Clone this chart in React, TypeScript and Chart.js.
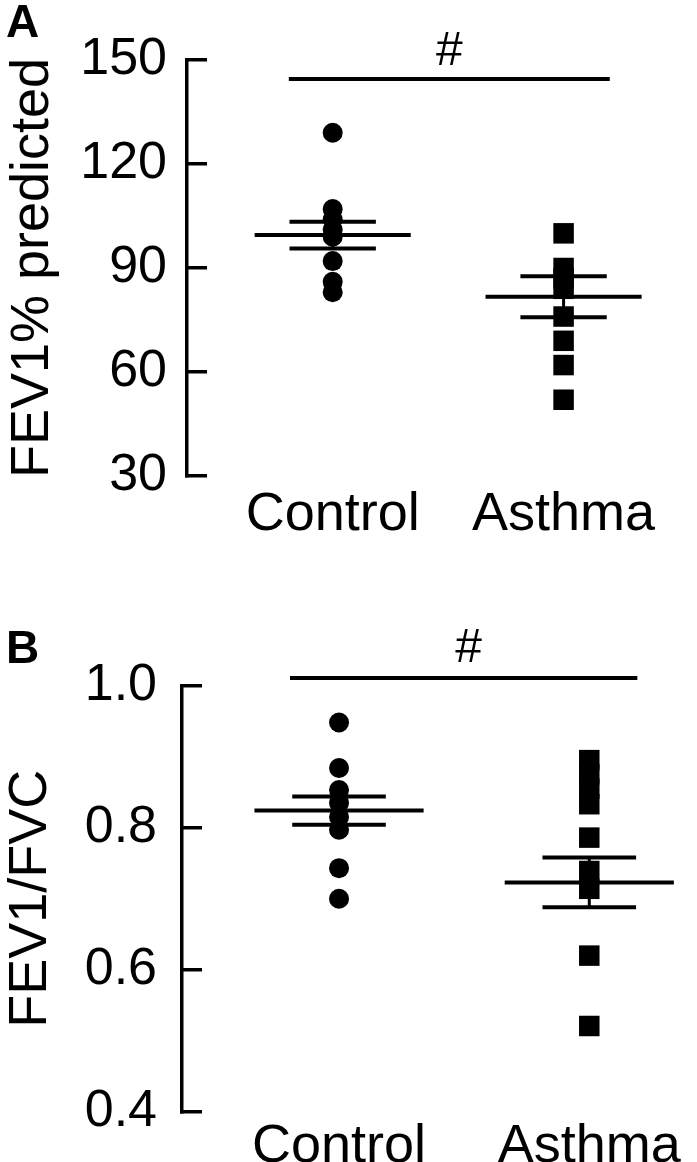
import React, { useEffect, useRef } from 'react';
import { Chart, registerables } from 'chart.js';

Chart.register(...registerables);

// ---------- data ----------
const categories = ['Control', 'Asthma'];

// Panel A: FEV1 % predicted
const fev1Control = [129, 107, 104, 101, 99, 92, 86, 83];
const fev1Asthma = [100, 90, 87, 84, 76, 69, 62, 52];
const fev1Mean = [99.5, 81.7];
const fev1Sem = [3.85, 5.9];
const fev1Ticks = [30, 60, 90, 120, 150];

// Panel B: FEV1/FVC
const ratioControl = [0.948, 0.884, 0.853, 0.835, 0.815, 0.797, 0.743, 0.7];
const ratioAsthma = [0.895, 0.875, 0.855, 0.833, 0.786, 0.739, 0.714, 0.62, 0.521];
const ratioMean = [0.824, 0.723];
const ratioSem = [0.02, 0.035];
const ratioTicks = [0.4, 0.6, 0.8, 1.0];

// ---------- styling ----------
const FONT = '"Liberation Sans", Arial, Helvetica, sans-serif';
const MEAN_HALF = 0.338;
const SEM_HALF = 0.187;

type PanelDef = {
  letter: string;
  title: string;
  control: number[];
  asthma: number[];
  mean: number[];
  sem: number[];
  ticks: number[];
  fmt: (v: number) => string;
  height: number;
  padTop: number;
  axisX: number;
  xAxisH: number;
  xMin: number;
  xMax: number;
  padRight: number;
  tickPad: number;
  xTickPad: number;
  tickFont: number;
  titleLH: number;
  sigFrom: number;
  sigTo: number;
  sigY: number;
  hashX: number;
  hashGap: number;
  letterY: number;
};

const panelA: PanelDef = {
  letter: 'A',
  title: 'FEV1% predicted',
  control: fev1Control,
  asthma: fev1Asthma,
  mean: fev1Mean,
  sem: fev1Sem,
  ticks: fev1Ticks,
  fmt: (v) => String(Math.round(v)),
  height: 580,
  padTop: 60,
  axisX: 187,
  xAxisH: 104,
  xMin: 0.369,
  xMax: 2.515,
  padRight: 10,
  tickPad: 40,
  xTickPad: -1,
  tickFont: 52,
  titleLH: 1.2,
  sigFrom: 0.81,
  sigTo: 2.2,
  sigY: 144.5,
  hashX: 1.505,
  hashGap: 14,
  letterY: 37,
};

const panelB: PanelDef = {
  letter: 'B',
  title: 'FEV1/FVC',
  control: ratioControl,
  asthma: ratioAsthma,
  mean: ratioMean,
  sem: ratioSem,
  ticks: ratioTicks,
  fmt: (v) => v.toFixed(1),
  height: 582,
  padTop: 105.5,
  axisX: 182,
  xAxisH: 50,
  xMin: 0.3725,
  xMax: 2.3725,
  padRight: 5,
  tickPad: 45,
  xTickPad: -5,
  tickFont: 52,
  titleLH: 1.1,
  sigFrom: 0.804,
  sigTo: 2.192,
  sigY: 1.0105,
  hashX: 1.518,
  hashGap: 16,
  letterY: 83,
};

const annotPlugin = {
  id: 'annot',
  afterDraw(chart: any) {
    const o = chart.options.plugins.annot;
    if (!o) return;
    const { ctx } = chart;
    const xs = chart.scales.x;
    const ys = chart.scales.y;
    ctx.save();
    ctx.fillStyle = '#000';
    ctx.font = `48px ${FONT}`;
    ctx.textAlign = 'center';
    ctx.textBaseline = 'alphabetic';
    ctx.fillText('#', xs.getPixelForValue(o.hashX), ys.getPixelForValue(o.sigY) - o.hashGap);
    ctx.font = `bold 46px ${FONT}`;
    ctx.textAlign = 'left';
    ctx.fillText(o.letter, 6, o.letterY);
    ctx.restore();
  },
};

function buildConfig(p: PanelDef): any {
  const lineDs = (data: { x: number; y: number }[], w: number, clip = true) => {
    const ds: any = {
      data,
      showLine: true,
      borderColor: '#000',
      backgroundColor: '#000',
      borderWidth: w,
      pointRadius: 0,
      pointHoverRadius: 0,
    };
    if (!clip) ds.clip = false;
    return ds;
  };
  const datasets: any[] = [];
  [0, 1].forEach((i) => {
    const xc = i + 1;
    const m = p.mean[i];
    const s = p.sem[i];
    datasets.push(lineDs([{ x: xc, y: m - s }, { x: xc, y: m + s }], 3));
    datasets.push(lineDs([{ x: xc - MEAN_HALF, y: m }, { x: xc + MEAN_HALF, y: m }], 4));
    datasets.push(lineDs([{ x: xc - SEM_HALF, y: m + s }, { x: xc + SEM_HALF, y: m + s }], 4));
    datasets.push(lineDs([{ x: xc - SEM_HALF, y: m - s }, { x: xc + SEM_HALF, y: m - s }], 4));
  });
  datasets.push({
    data: p.control.map((v) => ({ x: 1, y: v })),
    pointStyle: 'circle',
    pointRadius: 10,
    pointHoverRadius: 10,
    pointBackgroundColor: '#000',
    pointBorderWidth: 0,
    showLine: false,
    clip: false,
  });
  datasets.push({
    data: p.asthma.map((v) => ({ x: 2, y: v })),
    pointStyle: 'rect',
    pointRadius: 14.5,
    pointHoverRadius: 14.5,
    pointBackgroundColor: '#000',
    pointBorderWidth: 0,
    showLine: false,
    clip: false,
  });
  datasets.push(lineDs([{ x: p.sigFrom, y: p.sigY }, { x: p.sigTo, y: p.sigY }], 4, false));

  return {
    type: 'scatter',
    data: { datasets },
    plugins: [annotPlugin],
    options: {
      responsive: false,
      animation: false,
      events: [],
      layout: { padding: { top: p.padTop, left: 0, right: p.padRight, bottom: 0 } },
      plugins: {
        legend: { display: false },
        tooltip: { enabled: false },
        annot: { hashX: p.hashX, sigY: p.sigY, hashGap: p.hashGap, letter: p.letter, letterY: p.letterY },
      },
      scales: {
        x: {
          type: 'linear',
          min: p.xMin,
          max: p.xMax,
          grid: { display: false },
          border: { display: false },
          afterBuildTicks: (s: any) => {
            s.ticks = categories.map((_, i) => ({ value: i + 1 }));
          },
          afterFit: (s: any) => {
            s.height = p.xAxisH;
            s.paddingLeft = 0;
            s.paddingRight = 0;
          },
          ticks: {
            autoSkip: false,
            maxRotation: 0,
            padding: p.xTickPad,
            color: '#000',
            font: { family: FONT, size: 54 },
            callback: (_v: any, i: number) => categories[i],
          },
        },
        y: {
          type: 'linear',
          min: p.ticks[0],
          max: p.ticks[p.ticks.length - 1],
          afterBuildTicks: (s: any) => {
            s.ticks = p.ticks.map((v) => ({ value: v }));
          },
          afterFit: (s: any) => {
            s.width = p.axisX;
            s.paddingTop = 0;
            s.paddingBottom = 0;
          },
          grid: {
            display: true,
            drawOnChartArea: false,
            drawTicks: true,
            tickLength: -20,
            tickWidth: 3.5,
            tickColor: '#000',
            color: '#000',
            lineWidth: 3.5,
          },
          border: { display: true, color: '#000', width: 3.5 },
          ticks: {
            padding: p.tickPad,
            color: '#000',
            font: { family: FONT, size: p.tickFont },
            callback: (v: any) => p.fmt(Number(v)),
          },
          title: {
            display: true,
            text: p.title,
            color: '#000',
            padding: { top: 1, bottom: 0 },
            font: { family: FONT, size: 54, lineHeight: p.titleLH },
          },
        },
      },
    },
  };
}

function Panel({ def, top }: { def: PanelDef; top: number }) {
  const ref = useRef<HTMLCanvasElement>(null);
  useEffect(() => {
    const chart = new Chart(ref.current as HTMLCanvasElement, buildConfig(def));
    return () => chart.destroy();
  }, [def]);
  return (
    <canvas
      ref={ref}
      width={697}
      height={def.height}
      style={{ position: 'absolute', left: 0, top, width: 697, height: def.height, display: 'block' }}
    />
  );
}

export default function App() {
  return (
    <div style={{ position: 'absolute', left: 0, top: 0, width: 697, height: 1162, background: '#fff', overflow: 'hidden' }}>
      <Panel def={panelA} top={0} />
      <Panel def={panelB} top={580} />
    </div>
  );
}
